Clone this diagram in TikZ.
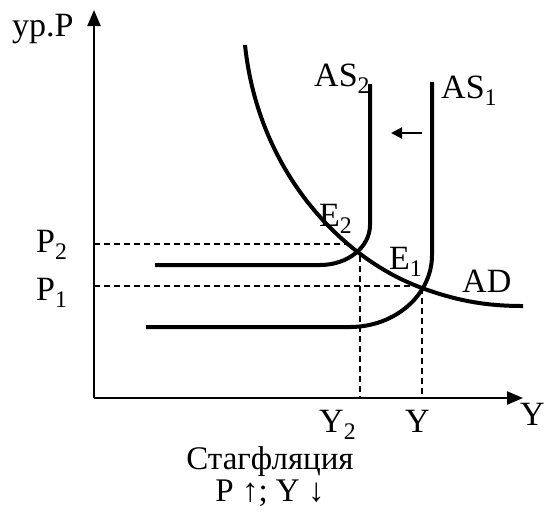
\documentclass[tikz,border=0pt]{standalone}
\usepackage{fontspec}
\setmainfont{Liberation Serif}
\usetikzlibrary{arrows.meta}
\begin{document}
\begin{tikzpicture}[x=1pt,y=-1pt,
  lbl/.style={font=\fontsize{34}{40}\selectfont, inner sep=0pt, anchor=base west},
  clbl/.style={font=\fontsize{33}{40}\selectfont, inner sep=0pt, anchor=base},
  curve/.style={line width=4pt},
  axisline/.style={line width=2.2pt, -{Triangle[length=16pt,width=13pt]}},
  guide/.style={line width=1.5pt, dash pattern=on 6pt off 4pt},
  shift arrow/.style={line width=2pt, -{Triangle[length=11pt,width=11pt]}}]
\useasboundingbox (0,0) rectangle (545,515);
% axes
\coordinate (O) at (94,398);
\coordinate (ytop) at (94,10);
\coordinate (xend) at (523,398);
\draw[axisline] (O) -- (ytop);
\draw[axisline] (O) -- (xend);
% intersection points
\coordinate (E2) at (357,253);
\coordinate (E1) at (422,288);
\coordinate (ADs) at (245,45);
\coordinate (ADe) at (523,306);
% AD curve
\draw[curve] (ADs) .. controls (258,170) and (340,258) .. (E1)
             .. controls (460,302) and (490,306) .. (ADe);
% AS2
\draw[curve] (370,84) -- (370,225) .. controls (370,247) and (348,265) .. (320,265) -- (155,265);
% AS1
\draw[curve] (432,82) -- (432,255) .. controls (432,295) and (395,327) .. (350,327) -- (146,327);
% guides
\coordinate (p2a) at (94,244);
\coordinate (p2b) at (352,244);
\coordinate (y2a) at (360,256);
\coordinate (y2b) at (360,398);
\coordinate (p1a) at (94,286);
\coordinate (y1b) at (422,398);
\draw[guide] (p2a) -- (p2b);
\draw[guide] (y2a) -- (y2b);
\draw[guide] (p1a) -- (E1 |- p1a);
\draw[guide] (E1) -- (y1b);
% shift arrow
\coordinate (sa) at (422,133);
\coordinate (sb) at (391,133);
\draw[shift arrow] (sa) -- (sb);
% labels
\node[lbl] (lP) at (12,36) {ур.P};
\node[lbl] (lP2) at (36,252) {P\textsubscript{2}};
\node[lbl] (lP1) at (36,300) {P\textsubscript{1}};
\node[lbl] (lAS2) at (314,86) {AS\textsubscript{2}};
\node[lbl] (lAS1) at (441,98) {AS\textsubscript{1}};
\node[lbl] (lE2) at (319,226) {E\textsubscript{2}};
\node[lbl] (lE1) at (389,269) {E\textsubscript{1}};
\node[lbl] (lAD) at (462,292) {AD};
\node[lbl, text depth=0pt] (lY2) at (319,432) {Y\textsubscript{2}};
\node[lbl] (lY) at (405,432) {Y};
\node[lbl] (lYax) at (520,425) {Y};
\node[clbl, text depth=0pt, text height=22pt] (lS) at (270,469) {Стагфляция};
\node[clbl, text height=22pt] (lPY) at (270,501) {P ↑; Y ↓};
\end{tikzpicture}
\end{document}
